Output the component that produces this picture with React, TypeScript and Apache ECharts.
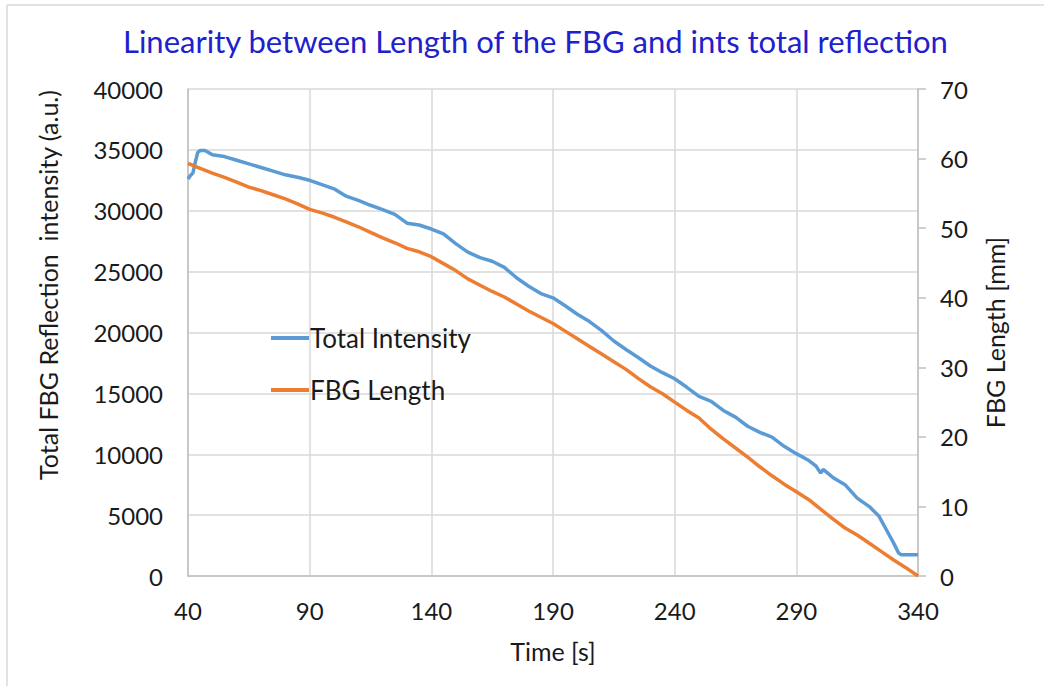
import React, { useEffect, useRef } from "react";
import * as echarts from "echarts";

const timeS = [40, 41, 42, 43, 44, 45, 47, 50, 55, 60, 65, 70, 75, 80, 85, 90, 95, 100, 105, 110, 115, 120, 125, 130, 135, 140, 145, 150, 155, 160, 165, 170, 175, 180, 185, 190, 195, 200, 205, 210, 215, 220, 225, 230, 235, 240, 245, 250, 255, 260, 265, 270, 275, 280, 285, 290, 295, 298, 300, 301, 305, 310, 315, 320, 324, 327, 330, 332, 333, 340];
const totalIntensity = [32600, 32900, 33100, 34000, 34800, 34950, 34950, 34600, 34450, 34150, 33850, 33550, 33250, 32950, 32750, 32500, 32150, 31800, 31200, 30850, 30450, 30100, 29700, 28980, 28830, 28500, 28100, 27300, 26600, 26150, 25850, 25350, 24500, 23800, 23200, 22850, 22200, 21500, 20900, 20150, 19300, 18600, 17950, 17250, 16700, 16200, 15500, 14750, 14350, 13600, 13050, 12300, 11800, 11400, 10650, 10050, 9500, 9050, 8450, 8750, 8100, 7500, 6400, 5700, 4900, 3800, 2700, 1900, 1750, 1750];

const lengthTime = [40, 45, 50, 55, 60, 65, 70, 75, 80, 85, 90, 95, 100, 105, 110, 115, 120, 125, 130, 135, 140, 145, 150, 155, 160, 165, 170, 175, 180, 185, 190, 195, 200, 205, 210, 215, 220, 225, 230, 235, 240, 245, 250, 255, 260, 265, 270, 275, 280, 285, 290, 295, 300, 305, 310, 315, 320, 325, 330, 335, 340];
const fbgLength = [59.3, 58.6, 57.9, 57.3, 56.6, 55.9, 55.4, 54.8, 54.2, 53.5, 52.7, 52.2, 51.6, 50.9, 50.2, 49.4, 48.6, 47.9, 47.1, 46.6, 45.9, 44.9, 43.9, 42.7, 41.8, 40.9, 40.1, 39.1, 38.1, 37.2, 36.3, 35.2, 34.1, 33.0, 31.9, 30.8, 29.7, 28.4, 27.2, 26.2, 25.0, 23.8, 22.7, 21.1, 19.7, 18.4, 17.1, 15.7, 14.4, 13.2, 12.1, 11.0, 9.6, 8.2, 6.9, 5.9, 4.7, 3.5, 2.3, 1.2, 0.0];

const titleText = "Linearity between Length of the FBG and ints total reflection";
const xName = "Time [s]";
const leftName = "Total FBG Reflection  intensity (a.u.)";
const rightName = "FBG Length [mm]";
const seriesNames = ["Total Intensity", "FBG Length"];

const FONT = "Lato, 'Open Sans', sans-serif";
const TXT = "#1a1a1a";

export default function App() {
  const ref = useRef<HTMLDivElement>(null);
  useEffect(() => {
    if (!ref.current) return;
    const chart = echarts.init(ref.current, null, { renderer: "svg" });
    chart.setOption({
      animation: false,
      backgroundColor: "#ffffff",
      textStyle: { fontFamily: FONT },
      title: {
        text: titleText,
        left: 118,
        top: 20,
        textStyle: { color: "#2020CC", fontSize: 31, fontWeight: "normal", fontFamily: FONT },
      },
      legend: {
        orient: "vertical",
        left: 266,
        top: 320,
        itemWidth: 38,
        itemHeight: 4,
        itemGap: 26,
        icon: "rect",
        textStyle: { fontSize: 26, color: TXT, fontFamily: FONT, padding: [0, 0, 0, -4] },
        data: seriesNames,
      },
      grid: { left: 188, right: 126, top: 89, bottom: 110, containLabel: false },
      xAxis: {
        type: "value",
        min: 40,
        max: 340,
        interval: 50,
        name: xName,
        nameLocation: "middle",
        nameGap: 62,
        nameTextStyle: { fontSize: 25, color: TXT, fontFamily: FONT },
        axisLine: { lineStyle: { color: "#bfbfbf", width: 1.5 } },
        axisTick: { show: false },
        axisLabel: { fontSize: 24, color: TXT, margin: 22, fontFamily: FONT },
        splitLine: { lineStyle: { color: "#d9d9d9", width: 1.5 } },
      },
      yAxis: [
        {
          type: "value",
          min: 0,
          max: 40000,
          interval: 5000,
          axisLine: { show: true, lineStyle: { color: "#bfbfbf", width: 1.5 } },
          axisTick: { show: false },
          axisLabel: { fontSize: 24, color: TXT, margin: 25, fontFamily: FONT, formatter: (v: number) => String(v) },
          splitLine: { lineStyle: { color: "#d9d9d9", width: 1.5 } },
        },
        {
          type: "value",
          min: 0,
          max: 70,
          interval: 10,
          position: "right",
          name: rightName,
          nameLocation: "middle",
          nameGap: 64,
          nameRotate: 90,
          nameTextStyle: { fontSize: 25, color: TXT, fontFamily: FONT },
          axisLine: { show: true, lineStyle: { color: "#bfbfbf", width: 1.5 } },
          axisTick: { show: true, length: 8, lineStyle: { color: "#bfbfbf", width: 1.5 } },
          axisLabel: { fontSize: 24, color: TXT, margin: 22, fontFamily: FONT },
          splitLine: { show: false },
        },
      ],
      series: [
        {
          name: seriesNames[0],
          type: "line",
          yAxisIndex: 0,
          showSymbol: false,
          symbol: "none",
          data: timeS.map((t, i) => [t, totalIntensity[i]]),
          lineStyle: { color: "#5B9BD5", width: 3.5 },
          itemStyle: { color: "#5B9BD5" },
        },
        {
          name: seriesNames[1],
          type: "line",
          yAxisIndex: 1,
          showSymbol: false,
          symbol: "none",
          data: lengthTime.map((t, i) => [t, fbgLength[i]]),
          lineStyle: { color: "#ED7D31", width: 3.5 },
          itemStyle: { color: "#ED7D31" },
        },
      ],
      graphic: [
        { type: "line", shape: { x1: 7, y1: 5, x2: 1044, y2: 5 }, style: { stroke: "#d9d9d9", lineWidth: 1.5 } },
        { type: "line", shape: { x1: 7, y1: 5, x2: 7, y2: 686 }, style: { stroke: "#d9d9d9", lineWidth: 1.5 } },
        {
          type: "text",
          x: 48,
          y: 285,
          rotation: Math.PI / 2,
          style: {
            text: leftName,
            fontSize: 25,
            fontFamily: FONT,
            fill: TXT,
            align: "center",
            verticalAlign: "middle",
          },
        },
      ],
    });
    return () => chart.dispose();
  }, []);
  return (
    <div
      ref={ref}
      style={{ position: "absolute", left: 0, top: 0, width: 1044, height: 686 }}
    />
  );
}
